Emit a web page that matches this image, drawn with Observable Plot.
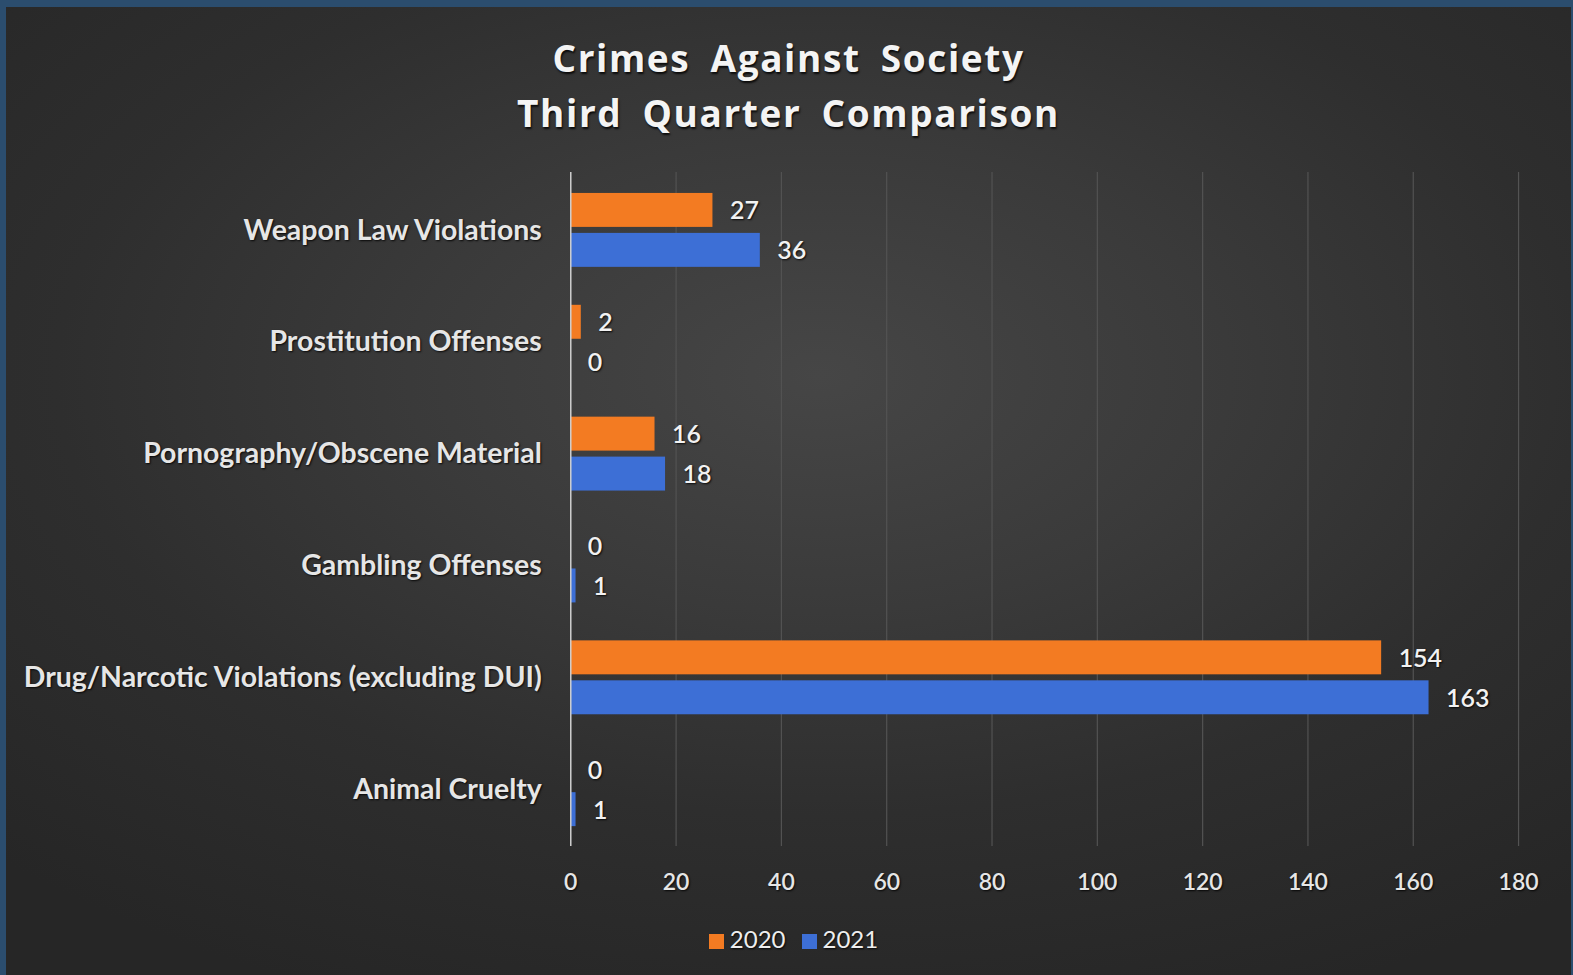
<!DOCTYPE html>
<html>
<head>
<meta charset="utf-8">
<script src="https://cdn.jsdelivr.net/npm/d3@7"></script>
<script src="https://cdn.jsdelivr.net/npm/@observablehq/plot@0.6"></script>
<style>
  html, body { margin: 0; padding: 0; background: #262626; }
  #wrap {
    position: relative; width: 1573px; height: 975px; box-sizing: border-box;
    border-top: 7px solid #2b4d6e; border-left: 6px solid #2b4d6e; border-right: 2px solid #2b4d6e;
    background: radial-gradient(ellipse 75% 70% at 52% 38%, #464646 0%, #3a3a3a 35%, #2e2e2e 65%, #262626 100%);
    overflow: hidden;
  }
  #title {
    position: absolute; left: 0; right: 0; top: 23px; text-align: center;
    font-family: "Open Sans", sans-serif; font-weight: 700; font-size: 37px; line-height: 55px;
    letter-spacing: 1.6px; word-spacing: 9px; color: #f4f4f4;
    text-shadow: 1px 2px 2px rgba(0,0,0,0.8);
  }
  #chart { position: absolute; left: -6px; top: 143px; }
  #chart svg text { text-shadow: 1px 1px 2px rgba(0,0,0,0.85); }
  #legend {
    position: absolute; top: 917px; left: 0; right: 0; text-align: center;
    font-family: Lato, sans-serif; font-size: 24px; color: #eeeeee; padding-left: 10px;
    text-shadow: 1px 1px 2px rgba(0,0,0,0.85);
  }
  #legend span.item { display: inline-block; margin: 0 8px; }
  #legend i { display: inline-block; width: 15px; height: 15px; margin-right: 6px; vertical-align: -1px; }
</style>
</head>
<body>
<div id="wrap">
  <div id="title">Crimes Against Society<br>Third Quarter Comparison</div>
  <div id="chart"></div>
  <div id="legend"></div>
</div>
<script>
const categories = [
  "Weapon Law Violations",
  "Prostitution Offenses",
  "Pornography/Obscene Material",
  "Gambling Offenses",
  "Drug/Narcotic Violations (excluding DUI)",
  "Animal Cruelty"
];
const values2020 = [27, 2, 16, 0, 154, 0];
const values2021 = [36, 0, 18, 1, 163, 1];
const seriesNames = ["2020", "2021"];
const seriesColors = ["#f37b22", "#3d6fd6"];
const xTicks = [0, 20, 40, 60, 80, 100, 120, 140, 160, 180];

const rows = categories.map((c, i) => ({category: c, v2020: values2020[i], v2021: values2021[i]}));

const labelFont = "Lato, sans-serif";

const chart = Plot.plot({
  width: 1573,
  height: 755,
  marginLeft: 571,
  marginRight: 53,
  marginTop: 22,
  marginBottom: 58,
  style: {background: "transparent", color: "#e8e8e8", fontFamily: labelFont, overflow: "visible"},
  x: {domain: [0, 180], ticks: xTicks},
  y: {domain: categories, paddingInner: 0.34, paddingOuter: 0.17},
  marks: [
    Plot.gridX(xTicks.filter(d => d > 0), {stroke: "#535353", strokeOpacity: 1, strokeWidth: 1.2}),
    Plot.barX(rows, {x: "v2020", y: "category", fill: seriesColors[0], insetBottom: 40}),
    Plot.barX(rows, {x: "v2021", y: "category", fill: seriesColors[1], insetTop: 40}),
    Plot.ruleX([0], {stroke: "#cfcfcf", strokeWidth: 1.5}),
    Plot.text(rows, {x: "v2020", y: "category", text: d => String(d.v2020), dy: -19, dx: 17,
      textAnchor: "start", fill: "#f2f2f2", fontSize: 25, fontWeight: 600, fontFamily: labelFont}),
    Plot.text(rows, {x: "v2021", y: "category", text: d => String(d.v2021), dy: 21, dx: 17,
      textAnchor: "start", fill: "#f2f2f2", fontSize: 25, fontWeight: 600, fontFamily: labelFont}),
    Plot.axisY({tickSize: 0, tickPadding: 29, fontSize: 28.5, fontWeight: 700, label: null, fill: "#e6e6e6"}),
    Plot.axisX({ticks: xTicks, tickSize: 0, tickPadding: 27, fontSize: 23, fontWeight: 600, label: null, fill: "#e6e6e6",
      tickFormat: d => String(d)})
  ]
});
document.getElementById("chart").appendChild(chart);

const legend = document.getElementById("legend");
seriesNames.forEach((name, i) => {
  const s = document.createElement("span");
  s.className = "item";
  const sw = document.createElement("i");
  sw.style.background = seriesColors[i];
  s.appendChild(sw);
  s.appendChild(document.createTextNode(name));
  legend.appendChild(s);
});
</script>
</body>
</html>
